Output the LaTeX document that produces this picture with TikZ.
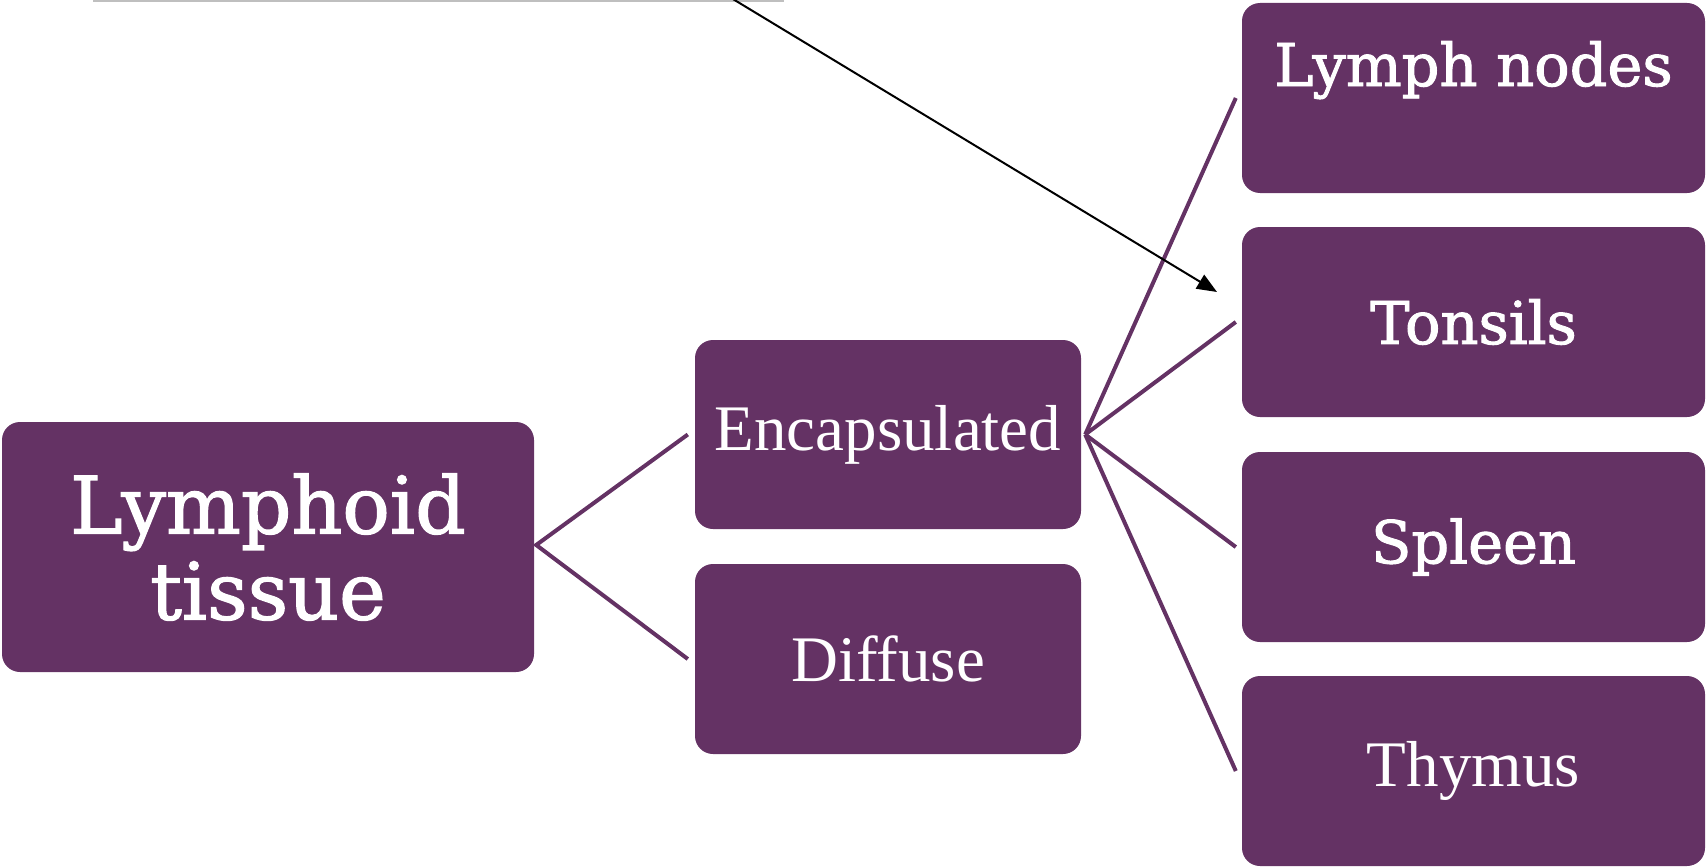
\documentclass[tikz,border=0pt]{standalone}
\usepackage{fontspec}
\setmainfont{Liberation Serif}
\newfontfamily\slabfont[FakeBold=1.6]{DejaVu Serif}
\usetikzlibrary{arrows.meta}
\definecolor{plum}{HTML}{643264}

\begin{document}
\begin{tikzpicture}[x=1pt, y=-1pt,
    box/.style={rectangle, rounded corners=18pt, fill=plum, text=white, inner sep=0pt},
    big/.style={font=\slabfont\fontsize{79}{86}\selectfont},
    slab/.style={font=\slabfont\fontsize{59}{70}\selectfont},
    roman/.style={font=\fontsize{65}{78}\selectfont},
    link/.style={draw=plum, line width=4pt}]
    \useasboundingbox (0,0) rectangle (1708,867);

    % Boxes
    \node[box, big, align=center, minimum width=532pt, minimum height=250pt] (lym) at (268,547) {Lymphoid\\tissue};
    \node[box, roman, minimum width=386pt, minimum height=189pt] (enc) at (888,434.5) {Encapsulated};
    \node[box, roman, minimum width=386pt, minimum height=190pt] (dif) at (888,659) {Diffuse};
    \node[box, minimum width=463pt, minimum height=190pt] (lnd) at (1473.5,98) {};
    \node[slab, text=white, anchor=base] (lndtext) at (1473.5,86) {Lymph nodes};
    \node[box, slab, minimum width=463pt, minimum height=190pt] (ton) at (1473.5,322) {Tonsils};
    \node[box, slab, minimum width=463pt, minimum height=190pt] (spl) at (1473.5,547) {Spleen};
    \node[box, roman, minimum width=463pt, minimum height=190pt] (thy) at (1473.5,771) {Thymus};

    % Connectors
    \draw[link] ([xshift=-7pt]enc.west) -- ([xshift=2pt,yshift=2pt]lym.east) -- ([xshift=-7pt]dif.west);
    \foreach \b in {lnd,ton,spl,thy}
        \draw[link] ([xshift=4pt]enc.east) -- ([xshift=-6pt]\b.west);

    % Cut-off line and arrow at the top
    \draw[gray!50, line width=2pt] (93,1) -- (784,1);
    \coordinate (src) at (718,-10);
    \coordinate (tip) at (1217,292);
    \draw[-{Triangle[length=20pt,width=16pt]}, line width=2pt] (src) -- (tip);
\end{tikzpicture}
\end{document}
